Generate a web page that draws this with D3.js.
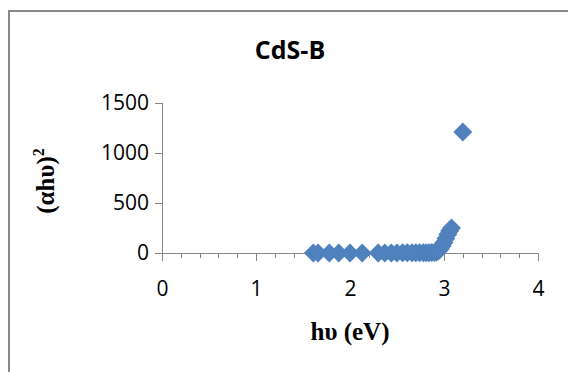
<!DOCTYPE html>
<html><head><meta charset="utf-8">
<script src="https://cdn.jsdelivr.net/npm/d3@7"></script>
<style>body{margin:0;background:#fff}svg{display:block}</style>
</head><body>
<svg id="c" width="568" height="372"></svg>
<script>
const hv = [1.61, 1.66, 1.78, 1.88, 2.0, 2.13, 2.3, 2.37, 2.44, 2.5, 2.56, 2.61, 2.66, 2.7, 2.74, 2.78, 2.81, 2.84, 2.87, 2.9, 2.92, 2.94, 2.96, 2.98, 3.0, 3.02, 3.04, 3.06, 3.08, 3.2];
const ahv2 = [0.3, 0.3, 0.4, 0.4, 0.5, 0.6, 0.8, 0.9, 1, 1.2, 1.4, 1.6, 1.8, 2, 2.3, 2.6, 3, 3.5, 4, 5, 9, 20, 40, 70, 105, 145, 185, 220, 250, 1210];
const xTicks = [0, 1, 2, 3, 4];
const yTicks = [0, 500, 1000, 1500];
const title = "CdS-B";

const svg = d3.select("#c");
const x = d3.scaleLinear().domain([0, 4]).range([162, 538]);
const y = d3.scaleLinear().domain([0, 1500]).range([253, 103]);
const axisColor = "#868686";
const font = "'Open Sans', sans-serif";

svg.append("rect").attr("x", 9).attr("y", 11).attr("width", 700).attr("height", 500)
  .attr("fill", "none").attr("stroke", "#898989").attr("stroke-width", 2);

// x axis
const xa = svg.append("g").attr("transform", `translate(0,${y(0)})`)
  .call(d3.axisBottom(x).tickValues(d3.range(0, 4.001, 0.2)).tickSize(5).tickFormat(""));
const xb = svg.append("g").attr("transform", `translate(0,${y(0)})`)
  .call(d3.axisBottom(x).tickValues(xTicks).tickSize(8).tickFormat(d3.format("d")).tickPadding(20));
[xa, xb].forEach(g => {
  g.selectAll("path").attr("stroke", axisColor).attr("shape-rendering", "crispEdges");
  g.selectAll("line").attr("stroke", axisColor).attr("shape-rendering", "crispEdges");
});
xa.select(".domain").remove();
xb.select(".domain").attr("d", `M${x(0)},0H${x(4)}`);
xb.selectAll("text").attr("font-family", font).attr("font-size", 21).attr("fill", "#000");

// y axis
const ya = svg.append("g").attr("transform", `translate(${x(0)},0)`)
  .call(d3.axisLeft(y).tickValues(yTicks).tickSize(7).tickFormat(d3.format("d")).tickPadding(6));
ya.select(".domain").attr("d", `M0,${y(1500)}V${y(0)}`).attr("stroke", axisColor).attr("shape-rendering", "crispEdges");
ya.selectAll("line").attr("stroke", axisColor).attr("shape-rendering", "crispEdges");
ya.selectAll("text").attr("font-family", font).attr("font-size", 21).attr("fill", "#000");

// points
const r = 9.5;
svg.append("g").selectAll("path").data(hv.map((d, i) => [d, ahv2[i]])).join("path")
  .attr("d", d => `M${x(d[0])},${y(d[1]) - r}L${x(d[0]) + r},${y(d[1])}L${x(d[0])},${y(d[1]) + r}L${x(d[0]) - r},${y(d[1])}Z`)
  .attr("fill", "#4F81BD");

// title
svg.append("text").attr("x", 290).attr("y", 59).attr("text-anchor", "middle")
  .attr("font-family", font).attr("font-weight", "bold").attr("font-size", 25).text(title);

// x title
svg.append("text").attr("x", 350).attr("y", 340).attr("text-anchor", "middle")
  .attr("font-family", "'Liberation Serif', serif").attr("font-weight", "bold").attr("font-size", 25)
  .text("hυ (eV)");

// y title
const yt = svg.append("text").attr("transform", "translate(54,181) rotate(-90)").attr("text-anchor", "middle")
  .attr("font-family", "'Liberation Serif', serif").attr("font-weight", "bold").attr("font-size", 25);
yt.append("tspan").text("(αhυ)");
yt.append("tspan").attr("font-size", 16).attr("dy", -10).text("2");
</script>
</body></html>
